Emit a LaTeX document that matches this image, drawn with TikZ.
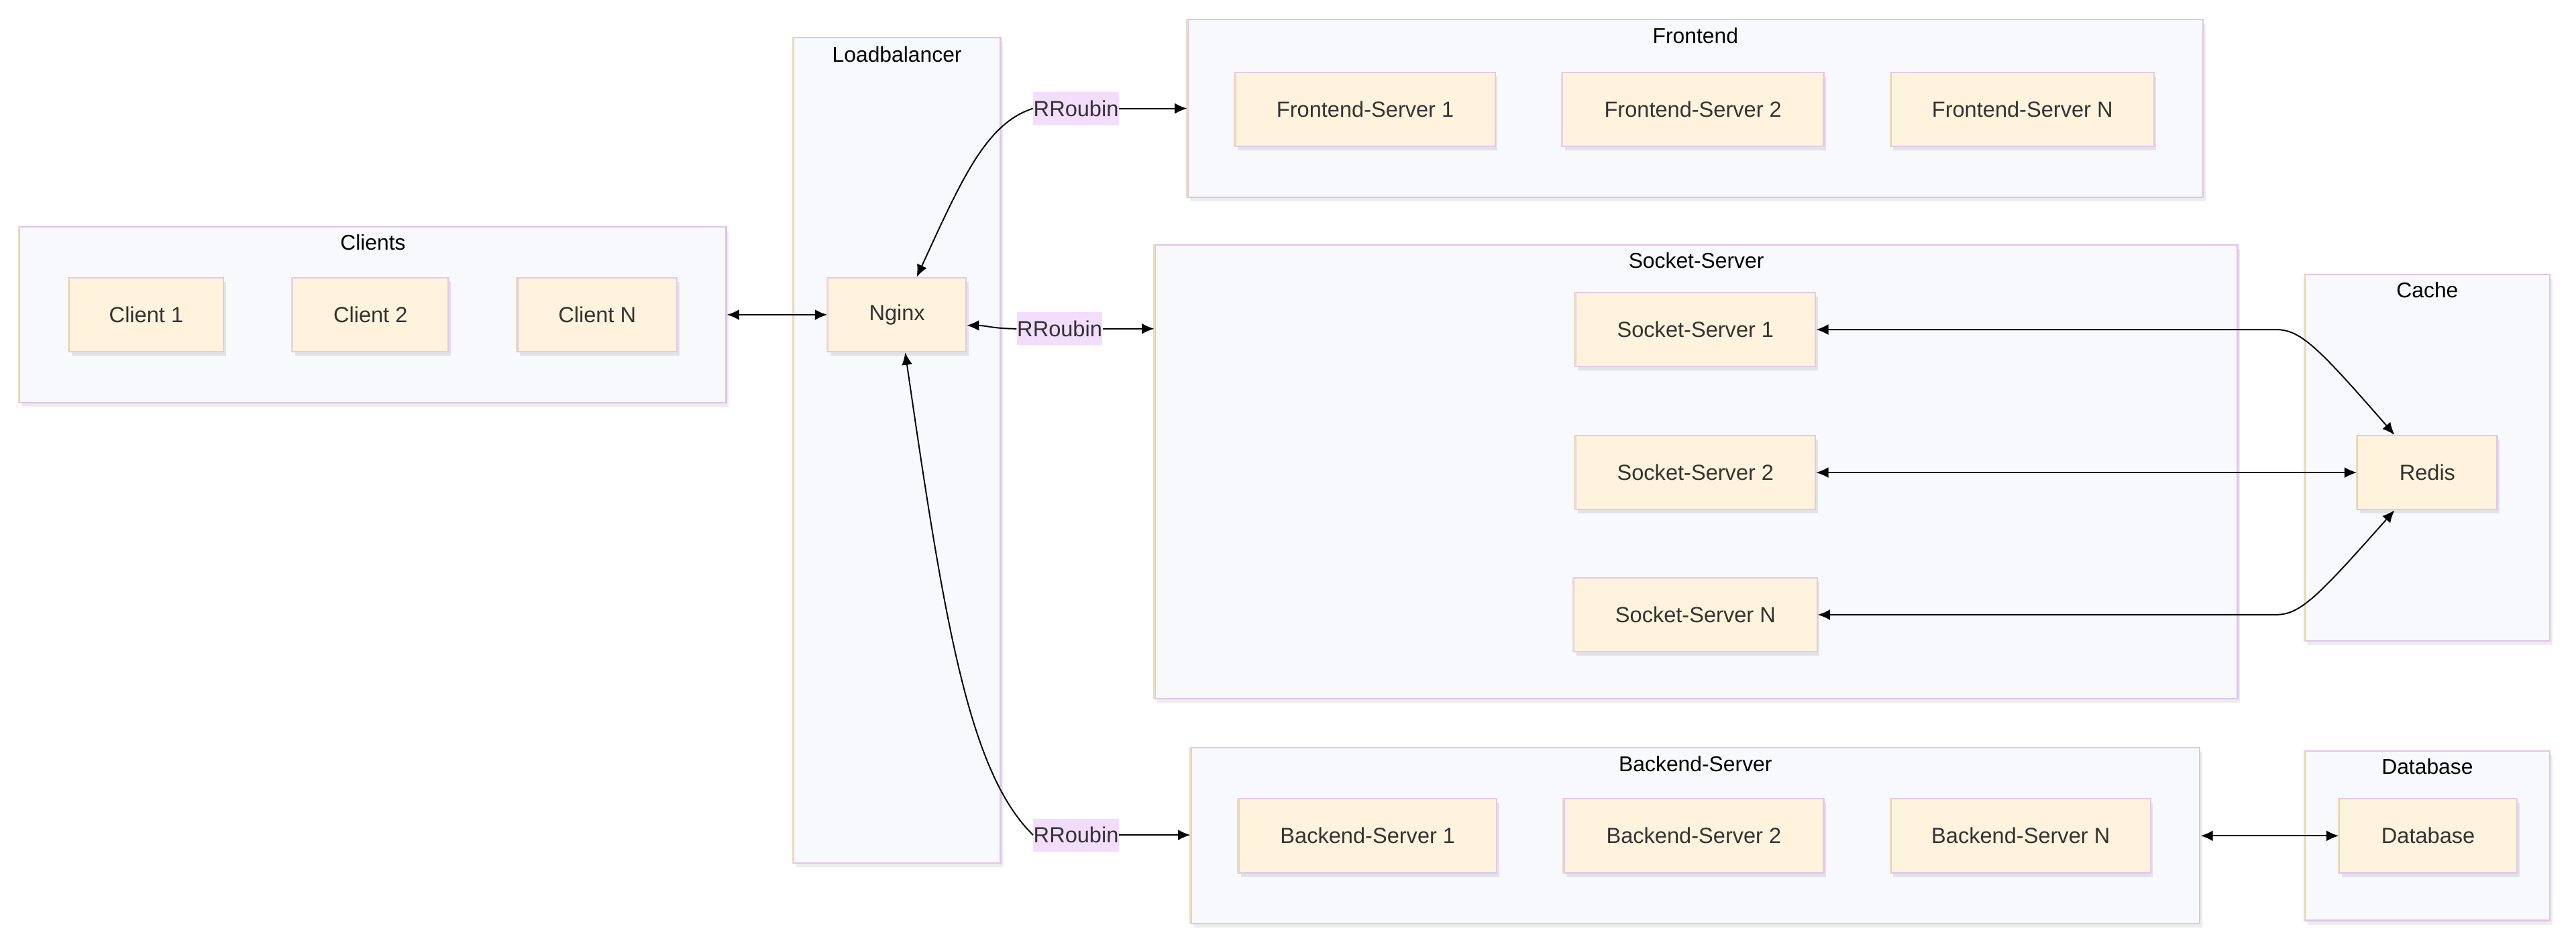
\documentclass[tikz,border=0pt]{standalone}
\usepackage{fontspec}
\setmainfont{Liberation Sans}
\usepackage{tikz}
\usetikzlibrary{arrows,arrows.meta}
\usetikzlibrary{calc,shapes,shadows}

\definecolor{grpfill}{HTML}{F8F9FD}
\definecolor{grpline}{HTML}{DFC3EE}
\definecolor{tanline}{HTML}{EEDCBC}
\definecolor{srvfill}{HTML}{FFF3DD}
\definecolor{srvline}{HTML}{E3C9EC}
\definecolor{lblfill}{HTML}{F3DDFC}
\definecolor{txtcol}{HTML}{333333}

\tikzset{
  tanedge/.style={append after command={(\tikzlastnode.north west) edge[draw=tanline,line width=0.9pt]
    (\tikzlastnode.south west)}},
  grp/.style={draw=grpline,fill=grpfill,line width=0.9pt,inner sep=0pt,tanedge,
    drop shadow={shadow xshift=1.5pt,shadow yshift=-2.5pt,opacity=0.15}},
  grptitle/.style={anchor=north,inner sep=0pt,font=\fontsize{13}{15}\selectfont,text=black},
  srv/.style={draw=srvline,fill=srvfill,line width=0.9pt,minimum height=45pt,inner sep=0pt,tanedge,
    font=\fontsize{13.3}{15}\selectfont,text=txtcol,
    drop shadow={shadow xshift=1.5pt,shadow yshift=-2.5pt,opacity=0.18}},
  rr/.style={fill=lblfill,inner xsep=0pt,minimum height=20pt,minimum width=52pt,
    font=\fontsize{13.3}{15}\selectfont,text=txtcol},
  fl/.style={line width=0.8pt,black},
  >={Latex[length=7.5pt,width=6.5pt]}
}

\begin{document}
\begin{tikzpicture}[x=1pt,y=-1pt]
\useasboundingbox (0,0) rectangle (1568,576);

% Groupes
\node[grp,minimum width=430pt,minimum height=107pt] (clients) at (227,191.5) {};
\node[grptitle] at ($(clients.north)+(0,5)$) {Clients};
\node[grp,minimum width=126pt,minimum height=502pt] (lb) at (546,274) {};
\node[grptitle] at ($(lb.north)+(0,5.5)$) {Loadbalancer};
\node[grp,minimum width=618pt,minimum height=108pt] (front) at (1032,66) {};
\node[grptitle] at ($(front.north)+(0,5)$) {Frontend};
\node[grp,minimum width=659pt,minimum height=276pt] (socket) at (1032.5,287) {};
\node[grptitle] at ($(socket.north)+(0,5)$) {Socket-Server};
\node[grp,minimum width=149pt,minimum height=223pt] (cache) at (1477.5,278.5) {};
\node[grptitle] at ($(cache.north)+(0,5)$) {Cache};
\node[grp,minimum width=614pt,minimum height=107pt] (back) at (1032,508.5) {};
\node[grptitle] at ($(back.north)+(0,5)$) {Backend-Server};
\node[grp,minimum width=149pt,minimum height=103pt] (db) at (1477.5,508.5) {};
\node[grptitle] at ($(db.north)+(0,5)$) {Database};

% Noeuds
\node[srv,minimum width=94pt] (c1) at (89,191.5) {Client 1};
\node[srv,minimum width=95pt] (c2) at (225.5,191.5) {Client 2};
\node[srv,minimum width=97pt] (cn) at (363.5,191.5) {Client N};
\node[srv,minimum width=84pt] (nginx) at (546,191.5) {Nginx};
\node[srv,minimum width=158pt] (fs1) at (831,66.5) {Frontend-Server 1};
\node[srv,minimum width=159pt] (fs2) at (1030.5,66.5) {Frontend-Server 2};
\node[srv,minimum width=160pt] (fsn) at (1231,66.5) {Frontend-Server N};
\node[srv,minimum width=146pt] (ss1) at (1032,200.5) {Socket-Server 1};
\node[srv,minimum width=146pt] (ss2) at (1032,287.5) {Socket-Server 2};
\node[srv,minimum width=148pt] (ssn) at (1032,374) {Socket-Server N};
\node[srv,minimum width=85pt] (redis) at (1477.5,287.5) {Redis};
\node[srv,minimum width=157pt] (bs1) at (832.5,508.5) {Backend-Server 1};
\node[srv,minimum width=158pt] (bs2) at (1031,508.5) {Backend-Server 2};
\node[srv,minimum width=158pt] (bsn) at (1230,508.5) {Backend-Server N};
\node[srv,minimum width=108pt] (dbn) at (1478,508.5) {Database};

% Etiquettes
\node[rr] (rf) at (655,66) {RRoubin};
\node[rr] (rs) at (645,200) {RRoubin};
\node[rr] (rb) at (655,508) {RRoubin};

% Flèches
\draw[fl,<->] (clients.east) -- (nginx.west);
\draw[fl,->] (rf.west) .. controls (600,75) and (585,110) .. ($(nginx.north)+(12,0)$);
\draw[fl,->] (rf.east) -- (front.west |- rf.east);
\draw[fl,->] (rs.west) .. controls (605,200) and (600,198) .. ($(nginx.east)+(0,6.5)$);
\draw[fl,->] (rs.east) -- (socket.west |- rs.east);
\draw[fl,->] (rb.west) .. controls (590,470) and (575,380) .. ($(nginx.south)+(5,0)$);
\draw[fl,->] (rb.east) -- (back.west |- rb.east);
\draw[fl,<->] (ss1.east) -- (1385,200.5) .. controls (1400,200.5) and (1410,210) .. ($(redis.north)+(-20,0)$);
\draw[fl,<->] (ss2.east) -- (redis.west);
\draw[fl,<->] (ssn.east) -- (1385,374) .. controls (1400,374) and (1410,364) .. ($(redis.south)+(-20,0)$);
\draw[fl,<->] (back.east |- bsn.east) -- (dbn.west);
\end{tikzpicture}
\end{document}
